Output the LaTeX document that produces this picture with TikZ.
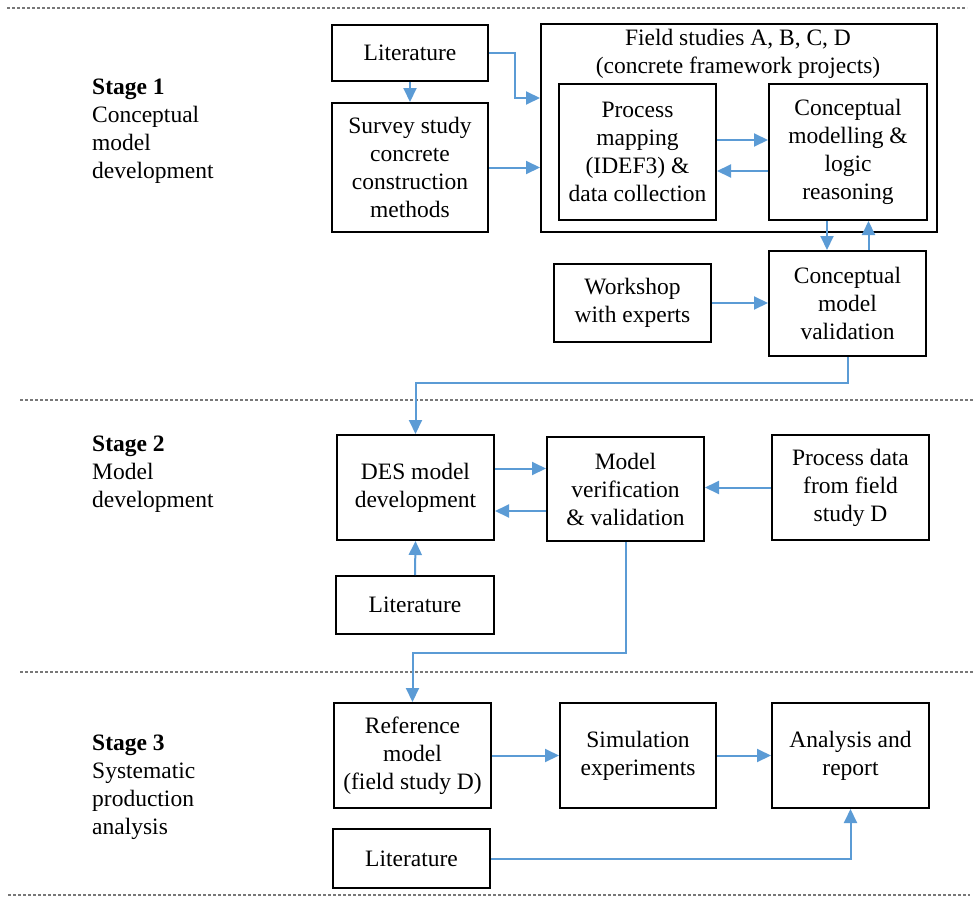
\documentclass[tikz,border=0pt]{standalone}
\usepackage{fontspec}
\setmainfont{Liberation Serif}
\usetikzlibrary{arrows.meta}
\definecolor{flowblue}{RGB}{91,155,213}
\definecolor{rulegray}{RGB}{120,120,120}
\tikzset{
  txt/.style={font=\fontsize{23.5pt}{28pt}\selectfont, align=center, inner sep=0pt},
  box/.style={txt, draw=black, line width=2pt, rectangle},
  stagelabel/.style={font=\fontsize{23.5pt}{28pt}\selectfont, align=left, inner sep=0pt, anchor=north west},
  flow/.style={draw=flowblue, line width=2pt, -{Triangle[length=14pt,width=13pt]}},
  divider/.style={draw=rulegray, line width=1.5pt, dash pattern=on 3pt off 2pt},
}
\begin{document}
\begin{tikzpicture}[x=1pt, y=-1pt]
\useasboundingbox (0,0) rectangle (975,897);

% stage dividers
\draw[divider] (7,8) -- (967,8);
\draw[divider] (20,400) -- (975,400);
\draw[divider] (20,672) -- (975,672);
\draw[divider] (8,895) -- (970,895);

% stage labels
\node[stagelabel] (s1) at (92,79) {\textbf{Stage 1}\\Conceptual\\model\\development};
\node[stagelabel] (s2) at (92,436) {\textbf{Stage 2}\\Model\\development};
\node[stagelabel] (s3) at (92,735) {\textbf{Stage 3}\\Systematic\\production\\analysis};

% stage 1
\node[box, minimum width=156pt, minimum height=56pt] (lit1) at (410,53) {Literature};
\node[box, minimum width=156pt, minimum height=129pt] (survey) at (410,167.5) {Survey study\\concrete\\construction\\methods};
\node[box, minimum width=396pt, minimum height=208pt] (field) at (739,128) {};
\node[txt] (fieldtitle) at (738,54) {Field studies A, B, C, D\\(concrete framework projects)};
\node[box, minimum width=157pt, minimum height=136pt] (proc) at (637.5,152) {Process\\mapping\\(IDEF3) \&\\data collection};
\node[box, minimum width=158pt, minimum height=136pt] (concept) at (848,152) {Conceptual\\modelling \&\\logic\\reasoning};
\node[box, minimum width=157pt, minimum height=78pt] (work) at (632.5,303) {Workshop\\with experts};
\node[box, minimum width=157pt, minimum height=105pt] (valid) at (847.5,303.5) {Conceptual\\model\\validation};

% stage 2
\node[box, minimum width=157pt, minimum height=105pt] (des) at (415.5,487.5) {DES model\\development};
\node[box, minimum width=157pt, minimum height=104pt] (mv) at (625.5,489) {Model\\verification\\\& validation};
\node[box, minimum width=157pt, minimum height=105pt] (pd) at (850.5,487.5) {Process data\\from field\\study D};
\node[box, minimum width=158pt, minimum height=58pt] (lit2) at (415,605) {Literature};

% stage 3
\node[box, minimum width=157pt, minimum height=105pt] (ref) at (412.5,755.5) {Reference\\model\\(field study D)};
\node[box, minimum width=156pt, minimum height=105pt] (sim) at (638,755.5) {Simulation\\experiments};
\node[box, minimum width=157pt, minimum height=105pt] (ana) at (850.5,755.5) {Analysis and\\report};
\node[box, minimum width=157pt, minimum height=59pt] (lit3) at (411.5,858.5) {Literature};

% routing points
\coordinate (bendA) at (515,98);
\coordinate (bendB) at (0,383);
\coordinate (bendC) at (0,653);
\path ([yshift=12pt]proc.east) coordinate (pcTop)
      ([yshift=-19pt]concept.west) coordinate (cpLow)
      ([xshift=-21pt]concept.south) coordinate (cvDown)
      ([xshift=21pt]valid.north) coordinate (vcUp)
      ([yshift=19pt]des.east) coordinate (dmTop)
      ([yshift=-22pt]mv.west) coordinate (mdLow);

% stage 1 flows
\draw[flow] (lit1.south) -- (survey.north);
\draw[flow] (lit1.east) -| (bendA) -- (bendA -| field.west);
\draw[flow] (survey.east) -- (survey.east -| field.west);
\draw[flow] (pcTop) -- (pcTop -| concept.west);
\draw[flow] (cpLow) -- (cpLow -| proc.east);
\draw[flow] (cvDown) -- (cvDown |- valid.north);
\draw[flow] (vcUp) -- (vcUp |- concept.south);
\draw[flow] (work.east) -- (work.east -| valid.west);
\draw[flow] (valid.south) -- (valid.south |- bendB) -| (des.north);

% stage 2 flows
\draw[flow] (dmTop) -- (dmTop -| mv.west);
\draw[flow] (mdLow) -- (mdLow -| des.east);
\draw[flow] (pd.west) -- (pd.west -| mv.east);
\draw[flow] (lit2.north) -- (des.south);
\draw[flow] (mv.south) -- (mv.south |- bendC) -| (ref.north);

% stage 3 flows
\draw[flow] (ref.east) -- (sim.west);
\draw[flow] (sim.east) -- (ana.west);
\draw[flow] (lit3.east) -| (ana.south);
\end{tikzpicture}
\end{document}
